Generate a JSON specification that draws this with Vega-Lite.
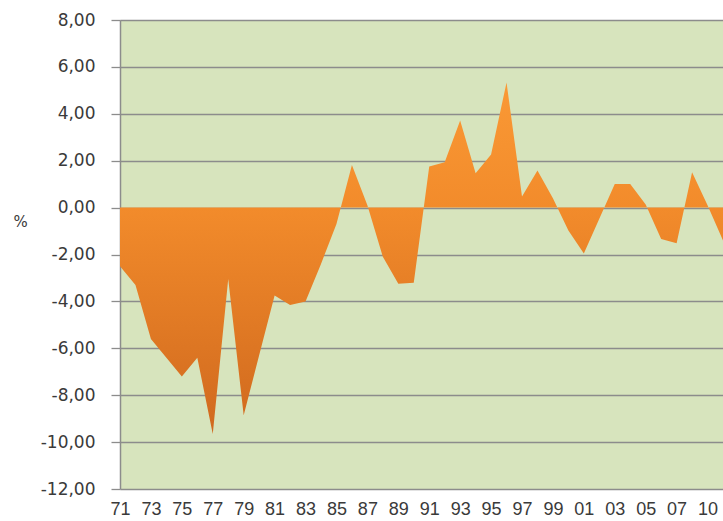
{
  "$schema": "https://vega.github.io/schema/vega-lite/v6.json",
  "width": 603,
  "height": 469,
  "autosize": {"type": "none"},
  "padding": {"left": 120, "top": 20, "right": 0, "bottom": 32},
  "background": "#ffffff",
  "view": {"fill": "#d7e4bd", "stroke": null},
  "data": {
    "values": [
      {"yr": "71", "v": -2.5}, {"yr": "72", "v": -3.3}, {"yr": "73", "v": -5.6}, {"yr": "74", "v": -6.4},
      {"yr": "75", "v": -7.2}, {"yr": "76", "v": -6.4}, {"yr": "77", "v": -9.65}, {"yr": "78", "v": -3.05},
      {"yr": "79", "v": -8.85}, {"yr": "80", "v": -6.3}, {"yr": "81", "v": -3.75}, {"yr": "82", "v": -4.15},
      {"yr": "83", "v": -4.0}, {"yr": "84", "v": -2.4}, {"yr": "85", "v": -0.7}, {"yr": "86", "v": 1.82},
      {"yr": "87", "v": 0.1}, {"yr": "88", "v": -2.1}, {"yr": "89", "v": -3.25}, {"yr": "90", "v": -3.2},
      {"yr": "91", "v": 1.75}, {"yr": "92", "v": 1.93}, {"yr": "93", "v": 3.71}, {"yr": "94", "v": 1.46},
      {"yr": "95", "v": 2.26}, {"yr": "96", "v": 5.34}, {"yr": "97", "v": 0.47}, {"yr": "98", "v": 1.58},
      {"yr": "99", "v": 0.4}, {"yr": "00", "v": -0.98}, {"yr": "01", "v": -1.96}, {"yr": "02", "v": -0.48},
      {"yr": "03", "v": 1.01}, {"yr": "04", "v": 1.01}, {"yr": "05", "v": 0.13}, {"yr": "06", "v": -1.34},
      {"yr": "07", "v": -1.52}, {"yr": "08", "v": 1.51}, {"yr": "10", "v": 0.1}, {"yr": "11", "v": -1.4}
    ]
  },
  "mark": {
    "type": "area",
    "interpolate": "linear",
    "color": {
      "gradient": "linear",
      "x1": 0, "y1": 0, "x2": 0, "y2": 1,
      "stops": [
        {"offset": 0, "color": "#fa9935"},
        {"offset": 0.36, "color": "#f28b2b"},
        {"offset": 1, "color": "#d0691e"}
      ]
    }
  },
  "encoding": {
    "x": {
      "field": "yr",
      "type": "ordinal",
      "sort": null,
      "scale": {"type": "point", "padding": 0},
      "axis": {
        "title": null,
        "values": ["71","73","75","77","79","81","83","85","87","89","91","93","95","97","99","01","03","05","07","10"],
        "labelAngle": 0,
        "ticks": false,
        "domain": false,
        "grid": false,
        "labelFont": "Liberation Sans",
        "labelFontSize": 18,
        "labelColor": "#3a3a3a",
        "labelPadding": 11,
        "labelDx": 3,
        "labelOverlap": false
      }
    },
    "y": {
      "field": "v",
      "type": "quantitative",
      "stack": null,
      "scale": {"domain": [-12, 8], "nice": false, "zero": false},
      "axis": {
        "values": [-12, -10, -8, -6, -4, -2, 0, 2, 4, 6, 8],
        "labelExpr": "(datum.value < 0 ? '-' : '') + replace(format(abs(datum.value), '.2f'), '.', ',')",
        "labelFont": "DejaVu Sans",
        "labelFontSize": 17,
        "labelColor": "#3a3a3a",
        "labelPadding": 16,
        "labelDy": 1,
        "tickSize": 9,
        "tickColor": "#8c8c8c",
        "tickWidth": 1.3,
        "domainColor": "#8c8c8c",
        "domainWidth": 1.5,
        "grid": true,
        "gridColor": "#8c8c8c",
        "gridWidth": 1.3,
        "title": "%",
        "titleAngle": 0,
        "titleFont": "DejaVu Sans",
        "titleFontSize": 15,
        "titleFontWeight": "normal",
        "titleColor": "#3a3a3a",
        "titleX": -100,
        "titleY": 201,
        "titleAlign": "center",
        "titleBaseline": "middle"
      }
    }
  }
}
